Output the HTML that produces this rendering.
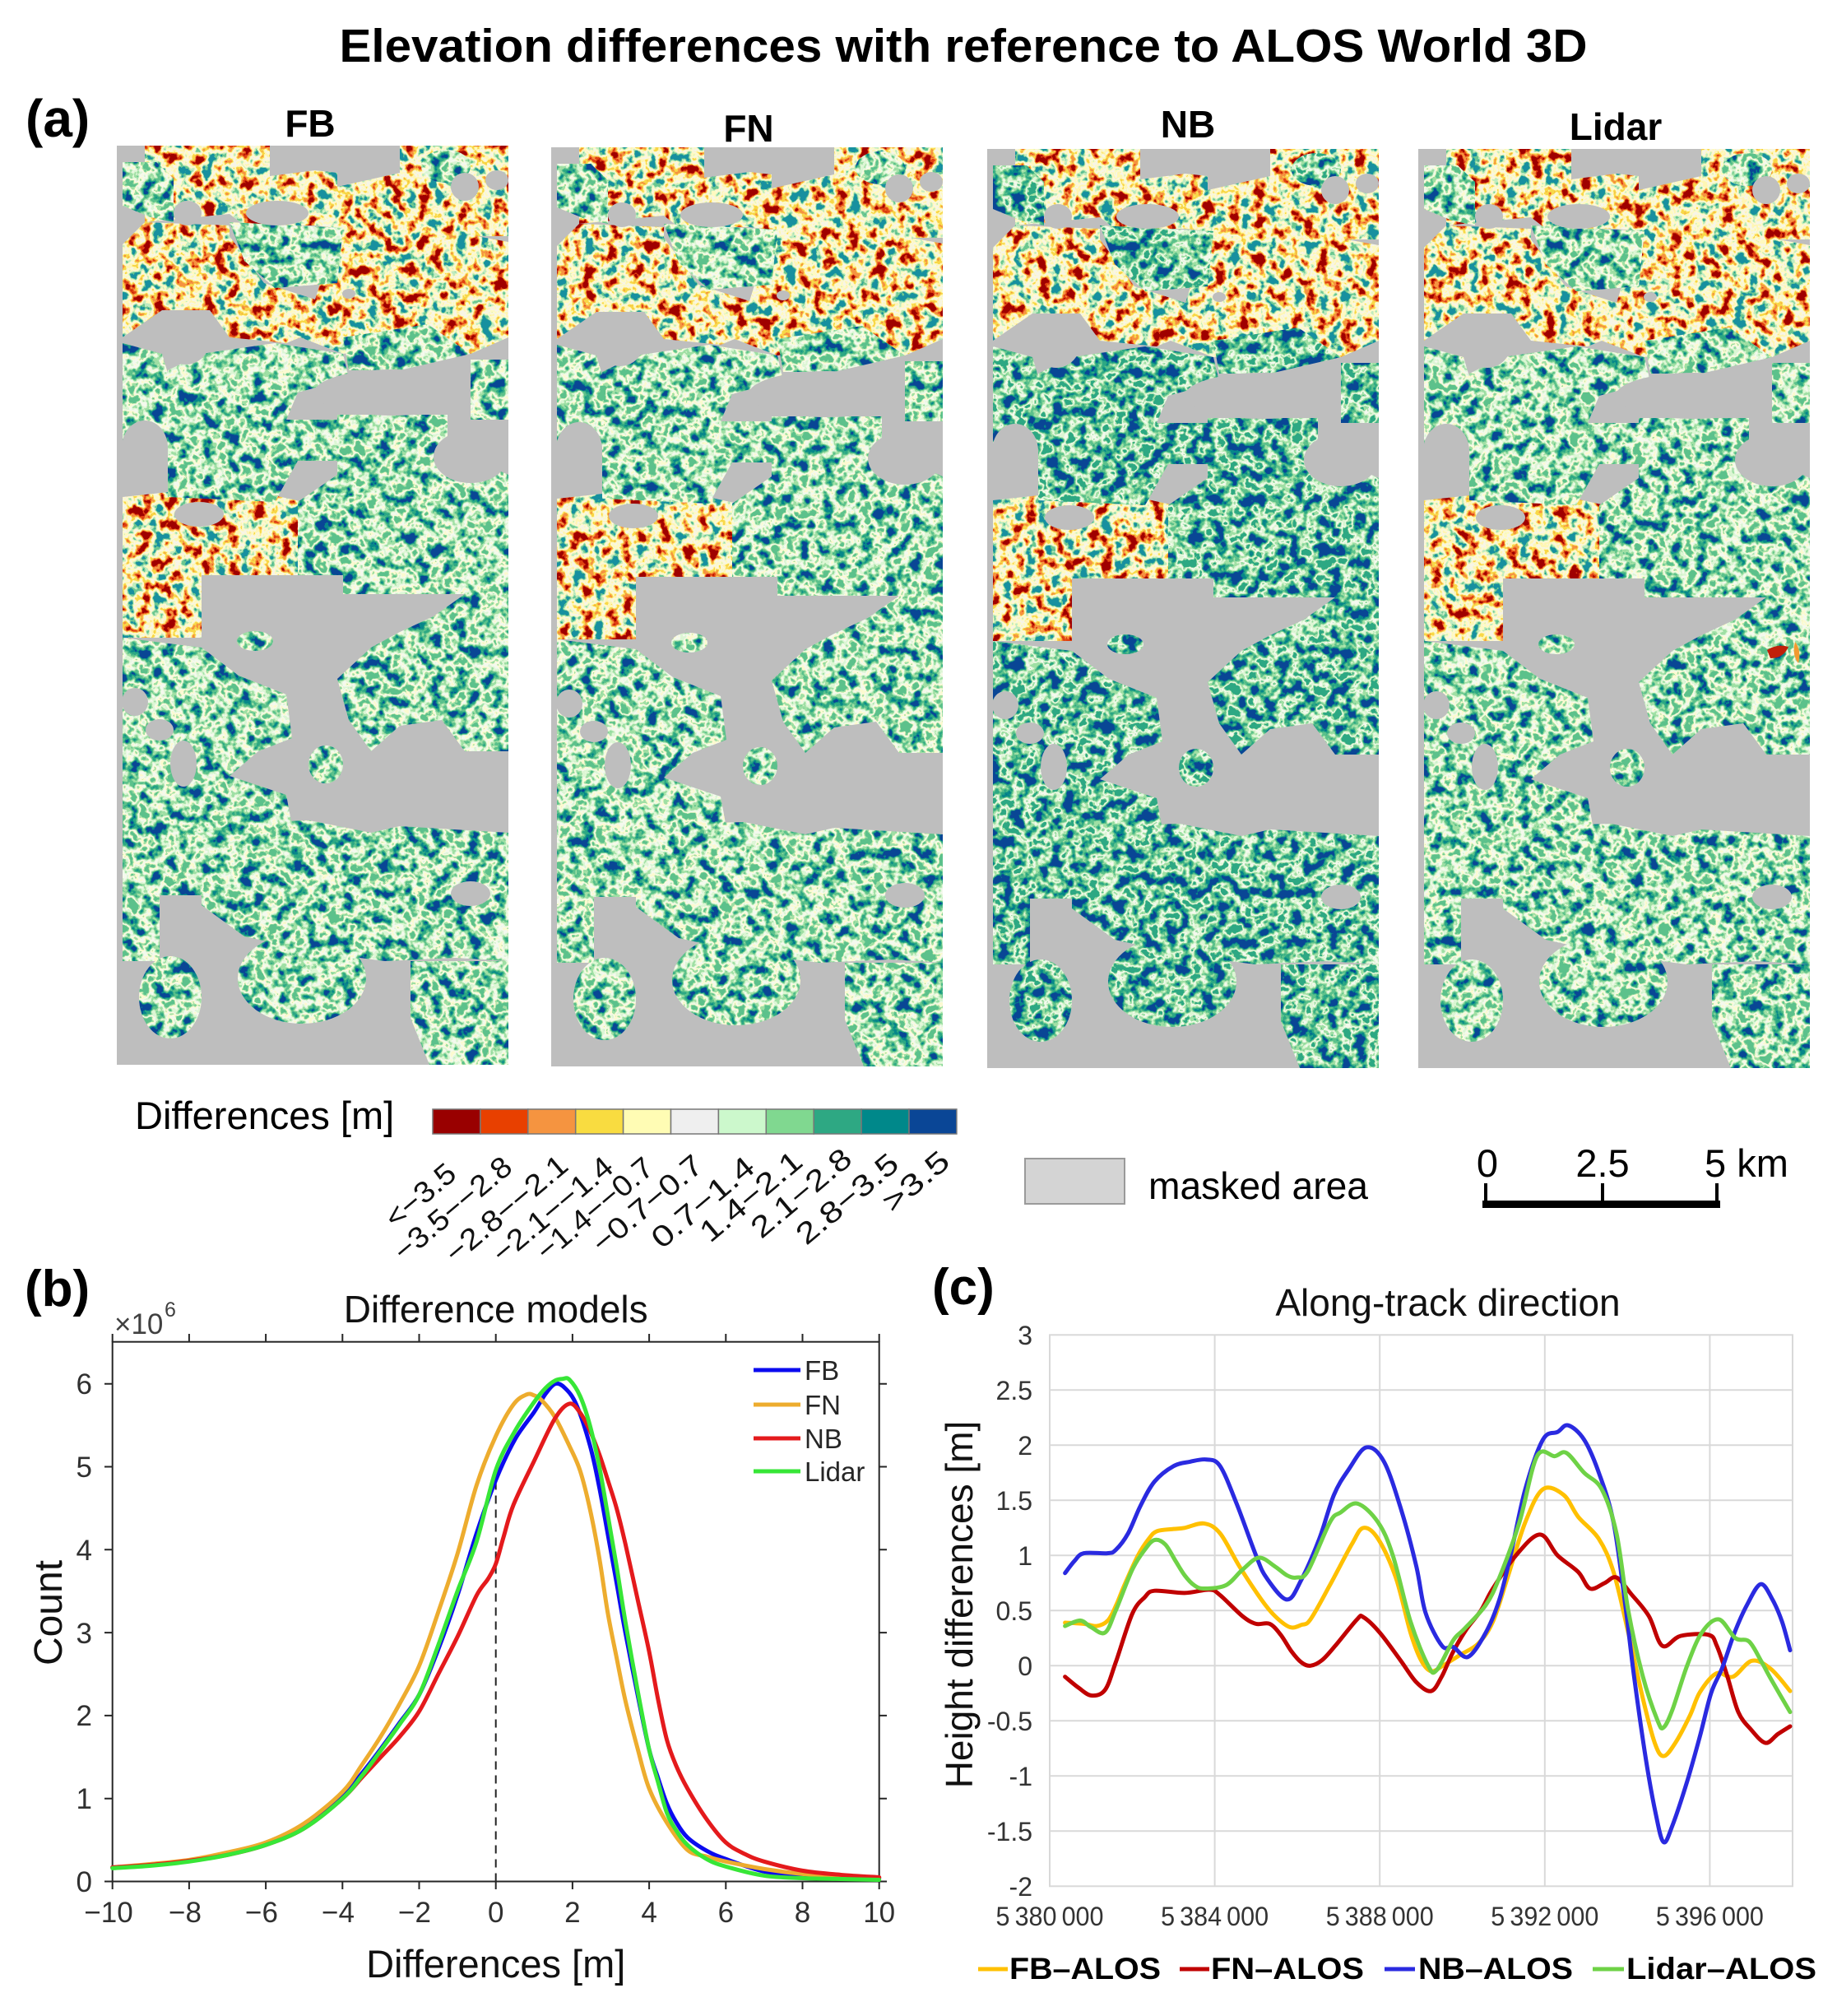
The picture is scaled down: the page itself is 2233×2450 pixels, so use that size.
<!DOCTYPE html>
<html><head><meta charset="utf-8"><style>
html,body{margin:0;padding:0;background:#fff;}
svg{display:block;font-family:"Liberation Sans",Arial,sans-serif;}
</style></head><body>
<svg id="root" xmlns="http://www.w3.org/2000/svg" width="2233" height="2450" viewBox="0 0 2233 2450">
<defs>
<filter id="fW" color-interpolation-filters="sRGB">
 <feTurbulence type="fractalNoise" baseFrequency="0.065" numOctaves="3" seed="3"/>
 <feColorMatrix type="matrix" values="2.2 0 0 0 -0.6  2.2 0 0 0 -0.6  2.2 0 0 0 -0.6  0 0 0 0 1"/>
 <feComponentTransfer>
  <feFuncR type="discrete" tableValues=".627 .878 .961 .976 1 .969 1 .753 .424 .094"/>
  <feFuncG type="discrete" tableValues="0 .251 .580 .847 .965 .961 .984 .925 .784 .565"/>
  <feFuncB type="discrete" tableValues="0 .063 .251 .282 .706 .902 .753 .753 .565 .627"/>
 </feComponentTransfer>
</filter>
<filter id="fC" color-interpolation-filters="sRGB">
 <feTurbulence type="fractalNoise" baseFrequency="0.065" numOctaves="3" seed="7"/>
 <feColorMatrix type="matrix" values="2.2 0 0 0 -0.6  2.2 0 0 0 -0.6  2.2 0 0 0 -0.6  0 0 0 0 1"/>
 <feComponentTransfer>
  <feFuncR type="discrete" tableValues=".039 .031 .180 .361 .627 .863 .957 .992 .627 .361"/>
  <feFuncG type="discrete" tableValues=".275 .533 .659 .757 .878 .965 .980 .984 .878 .757"/>
  <feFuncB type="discrete" tableValues=".588 .541 .514 .549 .647 .835 .937 .816 .647 .549"/>
 </feComponentTransfer>
</filter>
<filter id="fCB" color-interpolation-filters="sRGB">
 <feTurbulence type="fractalNoise" baseFrequency="0.065" numOctaves="3" seed="11"/>
 <feColorMatrix type="matrix" values="2.2 0 0 0 -0.6  2.2 0 0 0 -0.6  2.2 0 0 0 -0.6  0 0 0 0 1"/>
 <feComponentTransfer>
  <feFuncR type="discrete" tableValues=".039 .039 .031 .180 .361 .627 .863 .957 .627 .180"/>
  <feFuncG type="discrete" tableValues=".275 .275 .533 .659 .757 .878 .965 .980 .878 .659"/>
  <feFuncB type="discrete" tableValues=".588 .588 .541 .514 .549 .647 .835 .937 .647 .514"/>
 </feComponentTransfer>
</filter>
<g id="warmS">
 <path d="M34,0 L186,0 L186,37 L241,30 L268,33 L268,50 L344,33 L344,0 L476,0 L476,110 L344,110 L268,100 L241,97 L155,97 L137,83 L34,93 Z"/>
 <path d="M7,120 L34,93 L137,97 L137,110 L179,167 L241,187 L268,100 L344,93 L476,117 L476,233 L430,253 L344,243 L275,253 L223,233 L206,240 L137,233 L113,200 L55,200 L7,233 Z"/>
 <path d="M7,427 L137,413 L227,433 L227,522 L103,522 L103,598 L7,598 Z"/>
</g>
<g id="coolS">
 <path d="M7,20 L48,20 L69,40 L69,93 L41,87 L7,73 Z"/>
 <ellipse cx="400" cy="25" rx="30" ry="20"/>
 <path d="M137,93 L275,100 L268,167 L192,173 L155,140 Z"/>
 <path d="M7,240 L55,253 L69,300 L69,367 L7,360 Z"/>
 <path d="M62,273 L103,253 L192,240 L275,253 L282,283 L220,300 L206,333 L268,333 L268,383 L220,383 L192,433 L62,427 Z"/>
 <path d="M268,327 L402,327 L402,367 L476,400 L476,522 L220,522 L220,433 L268,400 Z"/>
 <path d="M430,260 L476,260 L476,333 L430,333 Z"/>
 <path d="M275,233 L378,217 L430,253 L344,273 L282,273 Z"/>
 <ellipse cx="168" cy="602" rx="22" ry="12"/>
 <path d="M268,648 L309,610 L344,591 L385,572 L423,545 L476,537 L476,736 L423,736 L395,698 L344,705 L309,736 L282,698 Z"/>
 <path d="M275,522 L476,522 L476,545 L275,545 Z"/>
 <path d="M7,598 L103,610 L148,644 L206,667 L213,720 L172,736 L137,766 L206,789 L213,827 L103,827 L7,827 Z"/>
 <ellipse cx="254" cy="752" rx="21" ry="23"/>
 <path d="M103,824 L234,820 L309,835 L344,827 L476,835 L476,991 L412,987 L326,991 L241,980 L155,961 L103,923 Z"/>
 <path d="M7,820 L103,820 L103,911 L7,911 Z"/>
 <path d="M7,888 L52,888 L52,991 L7,991 Z"/>
 <ellipse cx="65" cy="1035" rx="38" ry="50"/>
 <ellipse cx="225" cy="1012" rx="78" ry="55"/>
 <path d="M357,991 L476,991 L476,1117 L380,1117 L357,1060 Z"/>
</g>
<g id="holeS">
 <ellipse cx="86" cy="82" rx="17" ry="15"/>
 <ellipse cx="195" cy="82" rx="38" ry="15"/>
 <ellipse cx="423" cy="50" rx="17" ry="17"/>
 <ellipse cx="462" cy="42" rx="14" ry="12"/>
 <ellipse cx="84" cy="233" rx="30" ry="33"/>
 <ellipse cx="335" cy="300" rx="95" ry="28"/>
 <ellipse cx="34" cy="367" rx="28" ry="33"/>
 <ellipse cx="430" cy="378" rx="45" ry="32"/>
 <ellipse cx="100" cy="448" rx="30" ry="15"/>
 <ellipse cx="22" cy="676" rx="16" ry="17"/>
 <ellipse cx="81" cy="751" rx="16" ry="28"/>
 <ellipse cx="52" cy="710" rx="17" ry="13"/>
 <ellipse cx="430" cy="909" rx="24" ry="15"/>
 <ellipse cx="282" cy="180" rx="8" ry="6"/>
</g>
<mask id="mW1" maskUnits="userSpaceOnUse" x="0" y="0" width="2233" height="2450"><use href="#warmS" fill="#fff" transform="translate(142,177)"/></mask>
<mask id="mC1" maskUnits="userSpaceOnUse" x="0" y="0" width="2233" height="2450"><use href="#coolS" fill="#fff" transform="translate(142,177)"/></mask>
<mask id="mW2" maskUnits="userSpaceOnUse" x="0" y="0" width="2233" height="2450"><use href="#warmS" fill="#fff" transform="translate(670,179)"/></mask>
<mask id="mC2" maskUnits="userSpaceOnUse" x="0" y="0" width="2233" height="2450"><use href="#coolS" fill="#fff" transform="translate(670,179)"/></mask>
<mask id="mW3" maskUnits="userSpaceOnUse" x="0" y="0" width="2233" height="2450"><use href="#warmS" fill="#fff" transform="translate(1200,181)"/></mask>
<mask id="mC3" maskUnits="userSpaceOnUse" x="0" y="0" width="2233" height="2450"><use href="#coolS" fill="#fff" transform="translate(1200,181)"/></mask>
<mask id="mW4" maskUnits="userSpaceOnUse" x="0" y="0" width="2233" height="2450"><use href="#warmS" fill="#fff" transform="translate(1724,181)"/></mask>
<mask id="mC4" maskUnits="userSpaceOnUse" x="0" y="0" width="2233" height="2450"><use href="#coolS" fill="#fff" transform="translate(1724,181)"/></mask>
</defs>

<rect width="2233" height="2450" fill="#fff"/>

<!-- Title -->
<text x="1171" y="75" font-size="57" font-weight="bold" text-anchor="middle" textLength="1517" lengthAdjust="spacingAndGlyphs">Elevation differences with reference to ALOS World 3D</text>
<text x="31" y="166" font-size="64" font-weight="bold">(a)</text>
<text x="377" y="166" font-size="46" font-weight="bold" text-anchor="middle">FB</text>
<text x="910" y="172" font-size="46" font-weight="bold" text-anchor="middle">FN</text>
<text x="1444" y="167" font-size="46" font-weight="bold" text-anchor="middle">NB</text>
<text x="1964" y="170" font-size="46" font-weight="bold" text-anchor="middle">Lidar</text>

<!-- Map panels -->
<g>
 <rect x="142" y="177" width="476" height="1117" fill="#bebebe"/>
 <rect x="142" y="177" width="476" height="1117" filter="url(#fW)" mask="url(#mW1)"/>
 <rect x="142" y="177" width="476" height="1117" filter="url(#fC)" mask="url(#mC1)"/>
 <svg x="142" y="177" width="476" height="1117" fill="#bebebe"><use href="#holeS"/></svg>
</g>
<g>
 <rect x="670" y="179" width="476" height="1117" fill="#bebebe"/>
 <rect x="670" y="179" width="476" height="1117" filter="url(#fW)" mask="url(#mW2)"/>
 <rect x="670" y="179" width="476" height="1117" filter="url(#fC)" mask="url(#mC2)"/>
 <svg x="670" y="179" width="476" height="1117" fill="#bebebe"><use href="#holeS"/></svg>
</g>
<g>
 <rect x="1200" y="181" width="476" height="1117" fill="#bebebe"/>
 <rect x="1200" y="181" width="476" height="1117" filter="url(#fW)" mask="url(#mW3)"/>
 <rect x="1200" y="181" width="476" height="1117" filter="url(#fCB)" mask="url(#mC3)"/>
 <svg x="1200" y="181" width="476" height="1117" fill="#bebebe"><use href="#holeS"/></svg>
</g>
<g>
 <rect x="1724" y="181" width="476" height="1117" fill="#bebebe"/>
 <rect x="1724" y="181" width="476" height="1117" filter="url(#fW)" mask="url(#mW4)"/>
 <rect x="1724" y="181" width="476" height="1117" filter="url(#fC)" mask="url(#mC4)"/>
 <svg x="1724" y="181" width="476" height="1117" fill="#bebebe"><use href="#holeS"/></svg>
 <path d="M2148,790 q12,-8 26,-4 q-6,14 -22,14 z" fill="#c0200a"/>
 <path d="M2182,780 q8,10 4,26 q-8,-10 -4,-26 z" fill="#f29a30"/>
</g>

<!-- Colorbar -->
<text x="164" y="1372" font-size="47">Differences [m]</text>
<g stroke="#777" stroke-width="1.5">
 <rect x="526" y="1348" width="57.9" height="30" fill="#990000"/>
 <rect x="583.9" y="1348" width="57.9" height="30" fill="#e84000"/>
 <rect x="641.8" y="1348" width="57.9" height="30" fill="#f59440"/>
 <rect x="699.7" y="1348" width="57.9" height="30" fill="#f9dc40"/>
 <rect x="757.6" y="1348" width="57.9" height="30" fill="#fffcb4"/>
 <rect x="815.5" y="1348" width="57.9" height="30" fill="#efefef"/>
 <rect x="873.4" y="1348" width="57.9" height="30" fill="#ccf8cc"/>
 <rect x="931.3" y="1348" width="57.9" height="30" fill="#80d890"/>
 <rect x="989.2" y="1348" width="57.9" height="30" fill="#2ea883"/>
 <rect x="1047.1" y="1348" width="57.9" height="30" fill="#00888a"/>
 <rect x="1105" y="1348" width="57.9" height="30" fill="#0a4696"/>
</g>
<g font-size="36" text-anchor="end" fill="#111">
 <text transform="translate(557,1430) rotate(-40)" textLength="100" lengthAdjust="spacingAndGlyphs">&lt;−3.5</text>
 <text transform="translate(625,1422) rotate(-40)" textLength="175" lengthAdjust="spacingAndGlyphs">−3.5−−2.8</text>
 <text transform="translate(693,1420) rotate(-40)" textLength="182" lengthAdjust="spacingAndGlyphs">−2.8−−2.1</text>
 <text transform="translate(748,1422) rotate(-40)" textLength="179" lengthAdjust="spacingAndGlyphs">−2.1−−1.4</text>
 <text transform="translate(797,1423) rotate(-40)" textLength="173" lengthAdjust="spacingAndGlyphs">−1.4−−0.7</text>
 <text transform="translate(857,1420) rotate(-40)" textLength="163" lengthAdjust="spacingAndGlyphs">−0.7−0.7</text>
 <text transform="translate(920,1422) rotate(-40)" textLength="151" lengthAdjust="spacingAndGlyphs">0.7−1.4</text>
 <text transform="translate(978,1415) rotate(-40)" textLength="150" lengthAdjust="spacingAndGlyphs">1.4−2.1</text>
 <text transform="translate(1038,1412) rotate(-40)" textLength="147" lengthAdjust="spacingAndGlyphs">2.1−2.8</text>
 <text transform="translate(1095,1418) rotate(-40)" textLength="150" lengthAdjust="spacingAndGlyphs">2.8−3.5</text>
 <text transform="translate(1157,1415) rotate(-40)" textLength="94" lengthAdjust="spacingAndGlyphs">&gt;3.5</text>
</g>

<!-- masked area -->
<rect x="1246" y="1408" width="121" height="55" fill="#d4d4d4" stroke="#9a9a9a" stroke-width="2"/>
<text x="1396" y="1457" font-size="46" textLength="267" lengthAdjust="spacingAndGlyphs">masked area</text>

<!-- scale bar -->
<g font-size="47">
 <text x="1808" y="1430" text-anchor="middle">0</text>
 <text x="1948" y="1430" text-anchor="middle">2.5</text>
 <text x="2072" y="1430">5 km</text>
</g>
<g stroke="#000" stroke-width="4">
 <line x1="1806" y1="1438" x2="1806" y2="1466"/>
 <line x1="1948" y1="1438" x2="1948" y2="1466"/>
 <line x1="2087" y1="1438" x2="2087" y2="1466"/>
</g>
<rect x="1802" y="1459" width="289" height="9" fill="#000"/>

<!-- Panel (b) -->
<text x="30" y="1587" font-size="62" font-weight="bold">(b)</text>
<text x="602.7" y="1607" font-size="46" text-anchor="middle" fill="#111">Difference models</text>
<text x="139" y="1621" font-size="35" fill="#404040">×10</text>
<text x="200" y="1600" font-size="25" fill="#404040">6</text>
<g stroke="#262626" stroke-width="2" fill="none">
 <rect x="136.7" y="1630.7" width="932" height="655.8"/>
 <path d="M127,2286.5H136.7M127,2185.7H136.7M127,2084.9H136.7M127,1984.1H136.7M127,1883.3H136.7M127,1782.5H136.7M127,1681.7H136.7"/>
 <path d="M1068.7,2286.5H1078M1068.7,2185.7H1078M1068.7,2084.9H1078M1068.7,1984.1H1078M1068.7,1883.3H1078M1068.7,1782.5H1078M1068.7,1681.7H1078"/>
 <path d="M136.7,2286.5V2296M229.9,2286.5V2296M323.1,2286.5V2296M416.3,2286.5V2296M509.5,2286.5V2296M602.7,2286.5V2296M695.9,2286.5V2296M789.1,2286.5V2296M882.3,2286.5V2296M975.5,2286.5V2296M1068.7,2286.5V2296"/>
 <path d="M136.7,1630.7V1621M229.9,1630.7V1621M323.1,1630.7V1621M416.3,1630.7V1621M509.5,1630.7V1621M602.7,1630.7V1621M695.9,1630.7V1621M789.1,1630.7V1621M882.3,1630.7V1621M975.5,1630.7V1621M1068.7,1630.7V1621"/>
</g>
<g font-size="35" fill="#303030" text-anchor="end">
 <text x="112" y="2299">0</text>
 <text x="112" y="2198">1</text>
 <text x="112" y="2097">2</text>
 <text x="112" y="1997">3</text>
 <text x="112" y="1896">4</text>
 <text x="112" y="1795">5</text>
 <text x="112" y="1694">6</text>
</g>
<g font-size="35" fill="#303030" text-anchor="middle">
 <text x="132" y="2336">−10</text>
 <text x="225" y="2336">−8</text>
 <text x="318" y="2336">−6</text>
 <text x="411" y="2336">−4</text>
 <text x="504" y="2336">−2</text>
 <text x="602.7" y="2336">0</text>
 <text x="695.9" y="2336">2</text>
 <text x="789.1" y="2336">4</text>
 <text x="882.3" y="2336">6</text>
 <text x="975.5" y="2336">8</text>
 <text x="1068.7" y="2336">10</text>
</g>
<text x="602.7" y="2403" font-size="47" text-anchor="middle" fill="#111">Differences [m]</text>
<text transform="translate(75,1960) rotate(-90)" font-size="48" text-anchor="middle" fill="#111">Count</text>
<line x1="602.7" y1="2286.5" x2="602.7" y2="1782.5" stroke="#222" stroke-width="2" stroke-dasharray="10,7"/>
<g transform="translate(602.7,2286.5) scale(46.6,-100.8)" fill="none" stroke-width="5" stroke-linejoin="round" stroke-linecap="round">
 <polyline class="sm" vector-effect="non-scaling-stroke" stroke="#0b0bef" points="-10,.17 -9,.2 -8,.25 -7,.33 -6,.45 -5,.66 -4,1.03 -3.5,1.3 -3,1.6 -2.5,1.92 -2,2.25 -1.5,2.8 -1,3.45 -0.5,4.2 0,4.84 0.5,5.33 1,5.66 1.3,5.88 1.55,6.0 1.8,5.95 2.1,5.75 2.46,5.25 2.7,4.75 2.92,4.19 3.15,3.6 3.38,3.0 3.7,2.25 4,1.59 4.23,1.25 4.46,.94 4.7,.72 5,.53 5.5,.37 6,.27 7,.12 8,.07 9,.05 10,.04"/>
 <polyline class="sm" vector-effect="non-scaling-stroke" stroke="#edac2e" points="-10,.17 -9,.21 -8,.26 -7,.35 -6,.47 -5,.7 -4,1.08 -3.5,1.4 -3,1.75 -2.5,2.15 -2,2.6 -1.5,3.25 -1,3.95 -0.5,4.78 0,5.37 0.46,5.75 0.8,5.87 1,5.86 1.2,5.8 1.54,5.6 1.92,5.25 2.2,4.95 2.46,4.48 2.7,3.9 2.92,3.24 3.15,2.7 3.38,2.18 3.7,1.6 4,1.12 4.46,.71 5,.38 5.5,.3 6,.24 7,.15 8,.09 9,.06 10,.05"/>
 <polyline class="sm" vector-effect="non-scaling-stroke" stroke="#e41a1c" points="-10,.17 -9,.2 -8,.25 -7,.32 -6,.44 -5,.64 -4,1.0 -3.5,1.25 -3,1.5 -2.5,1.75 -2,2.05 -1.5,2.5 -1,2.95 -0.5,3.45 -0.2,3.65 0,3.83 0.2,4.15 0.46,4.54 1,5.07 1.54,5.58 1.92,5.76 2.2,5.65 2.46,5.43 2.7,5.15 2.92,4.84 3.15,4.5 3.38,4.07 3.7,3.4 4,2.77 4.23,2.2 4.46,1.71 4.7,1.4 5,1.12 5.5,.75 6,.47 6.5,.33 7,.24 8,.13 9,.08 10,.05"/>
 <polyline class="sm" vector-effect="non-scaling-stroke" stroke="#37e637" points="-10,.16 -9,.19 -8,.24 -7,.32 -6,.44 -5,.64 -4,1.0 -3.5,1.27 -3,1.58 -2.5,1.9 -2,2.25 -1.5,2.85 -1,3.5 -0.5,4.1 0,4.96 0.5,5.43 1,5.78 1.3,5.95 1.55,6.04 1.75,6.06 1.92,6.05 2.2,5.85 2.46,5.49 2.7,5.0 2.92,4.42 3.15,3.8 3.38,3.13 3.7,2.3 4,1.59 4.23,1.2 4.46,.83 4.7,.62 5,.44 5.5,.27 6,.18 7,.07 8,.04 9,.03 10,.02"/>
</g>
<g stroke-width="5">
 <line x1="916" y1="1665" x2="973" y2="1665" stroke="#0b0bef"/>
 <line x1="916" y1="1707" x2="973" y2="1707" stroke="#edac2e"/>
 <line x1="916" y1="1748" x2="973" y2="1748" stroke="#e41a1c"/>
 <line x1="916" y1="1788" x2="973" y2="1788" stroke="#37e637"/>
</g>
<g font-size="33" fill="#262626">
 <text x="978" y="1677">FB</text>
 <text x="978" y="1719">FN</text>
 <text x="978" y="1760">NB</text>
 <text x="978" y="1800">Lidar</text>
</g>

<!-- Panel (c) -->
<text x="1133" y="1585" font-size="62" font-weight="bold">(c)</text>
<text x="1760" y="1599" font-size="46" text-anchor="middle" fill="#111">Along-track direction</text>
<g stroke="#d9d9d9" stroke-width="2" fill="none">
 <path d="M1276,1689.3H2179M1276,1756.3H2179M1276,1823.3H2179M1276,1890.3H2179M1276,1957.3H2179M1276,2024.3H2179M1276,2091.3H2179M1276,2158.3H2179M1276,2225.3H2179"/>
 <path d="M1476.6,1622.3V2292.3M1677.2,1622.3V2292.3M1877.8,1622.3V2292.3M2078.4,1622.3V2292.3"/>
 <rect x="1276" y="1622.3" width="903" height="670"/>
</g>
<g font-size="32" fill="#333" text-anchor="end">
 <text x="1255" y="1634">3</text>
 <text x="1255" y="1701">2.5</text>
 <text x="1255" y="1768">2</text>
 <text x="1255" y="1835">1.5</text>
 <text x="1255" y="1902">1</text>
 <text x="1255" y="1969">0.5</text>
 <text x="1255" y="2036">0</text>
 <text x="1255" y="2103">-0.5</text>
 <text x="1255" y="2170">-1</text>
 <text x="1255" y="2237">-1.5</text>
 <text x="1255" y="2304">-2</text>
</g>
<g font-size="32" fill="#333" text-anchor="middle">
 <text x="1276" y="2340" textLength="131" lengthAdjust="spacingAndGlyphs">5&#8201;380&#8201;000</text>
 <text x="1476.6" y="2340" textLength="131" lengthAdjust="spacingAndGlyphs">5&#8201;384&#8201;000</text>
 <text x="1677.2" y="2340" textLength="131" lengthAdjust="spacingAndGlyphs">5&#8201;388&#8201;000</text>
 <text x="1877.8" y="2340" textLength="131" lengthAdjust="spacingAndGlyphs">5&#8201;392&#8201;000</text>
 <text x="2078.4" y="2340" textLength="131" lengthAdjust="spacingAndGlyphs">5&#8201;396&#8201;000</text>
</g>
<text transform="translate(1182,1950) rotate(-90)" font-size="46" text-anchor="middle" fill="#111">Height differences [m]</text>
<g transform="translate(1276,2024.3) scale(50.15,-134)" fill="none" stroke-width="5" stroke-linejoin="round" stroke-linecap="round">
 <polyline class="sm" vector-effect="non-scaling-stroke" stroke="#ffc000" points="0.371,.39 0.827,.38 1.141,.36 1.41,.41 1.612,.55 1.81,.73 2.14,1.0 2.4,1.15 2.6,1.22 3.0,1.24 3.27,1.25 3.74,1.29 4.13,1.2 4.6,.9 5.13,.6 5.46,.45 5.82,.35 6.1,.37 6.32,.42 6.79,.73 7.32,1.1 7.603,1.25 7.96,1.15 8.388,.8 8.745,.3 9.0,.05 9.244,-.05 9.529,0 9.957,.1 10.385,.2 10.742,.4 11.098,.8 11.526,1.3 11.954,1.6 12.454,1.55 12.81,1.35 13.31,1.15 13.666,.85 14.023,.3 14.379,-.3 14.665,-.7 14.879,-.82 15.164,-.7 15.521,-.45 15.76,-.24 16.16,-.07 16.56,-.1 17.02,.045 17.48,-.03 17.946,-.23"/>
 <polyline class="sm" vector-effect="non-scaling-stroke" stroke="#c00000" points="0.371,-.1 0.7,-.2 1.01,-.27 1.34,-.22 1.6,.03 2.0,.47 2.3,.62 2.54,.68 3.27,.66 3.87,.69 4.13,.64 4.67,.45 5.0,.38 5.33,.38 5.6,.28 5.86,.13 6.1,.03 6.32,0 6.6,.05 6.92,.18 7.45,.42 7.603,.44 8.0,.3 8.5,.05 8.887,-.15 9.244,-.23 9.5,-.1 9.77,.12 10.1,.33 10.45,.5 10.742,.7 11.3,1.0 11.883,1.19 12.311,1.0 12.81,.85 13.096,.7 13.452,.75 13.738,.8 14.094,.65 14.522,.45 14.85,.18 15.29,.27 15.97,.28 16.17,.18 16.42,-.09 16.69,-.42 17.0,-.58 17.35,-.7 17.65,-.62 17.946,-.55"/>
 <polyline class="sm" vector-effect="non-scaling-stroke" stroke="#2a2ae0" points="0.371,.84 0.6,.95 0.827,1.02 1.398,1.02 1.6,1.05 1.9,1.2 2.2,1.45 2.54,1.67 3.0,1.81 3.4,1.85 3.8,1.87 4.13,1.81 4.53,1.47 5.0,1.0 5.25,.8 5.75,.6 6.1,.78 6.534,1.15 6.89,1.55 7.247,1.78 7.675,1.98 8.103,1.85 8.531,1.4 8.887,.9 9.11,.48 9.51,.18 9.78,.17 10.14,.08 10.57,.3 10.9,.6 11.17,1.0 11.526,1.6 11.954,2.05 12.311,2.12 12.568,2.18 12.953,2.05 13.31,1.75 13.666,1.3 13.951,.55 14.165,-.1 14.451,-.85 14.693,-1.35 14.879,-1.6 15.093,-1.45 15.45,-1.05 15.76,-.64 16.03,-.25 16.3,-.02 16.6,.3 16.9,.55 17.233,.74 17.518,.6 17.75,.4 17.946,.14"/>
 <polyline class="sm" vector-effect="non-scaling-stroke" stroke="#6ed246" points="0.371,.36 0.74,.41 1.0,.35 1.34,.3 1.6,.5 2.0,.87 2.3,1.05 2.54,1.14 2.8,1.1 3.05,.95 3.27,.82 3.5,.73 3.74,.7 4.27,.73 4.67,.87 5.07,.98 5.46,.9 5.75,.82 5.99,.8 6.26,.86 6.79,1.3 7.05,1.39 7.461,1.47 7.96,1.3 8.317,1.0 8.745,.4 9.173,0 9.38,-.04 9.78,.23 10.04,.33 10.57,.55 10.9,.8 11.384,1.3 11.812,1.9 12.24,1.9 12.525,1.93 12.953,1.75 13.381,1.6 13.738,1.2 14.023,.5 14.379,-.1 14.736,-.5 14.879,-.56 15.093,-.4 15.449,0 15.806,.3 16.22,.42 16.62,.25 16.95,.22 17.233,.05 17.48,-.12 17.946,-.42"/>
</g>
<g stroke-width="5">
 <line x1="1189" y1="2393" x2="1225" y2="2393" stroke="#ffc000"/>
 <line x1="1434" y1="2393" x2="1470" y2="2393" stroke="#c00000"/>
 <line x1="1683" y1="2393" x2="1720" y2="2393" stroke="#2a2ae0"/>
 <line x1="1936" y1="2393" x2="1974" y2="2393" stroke="#6ed246"/>
</g>
<g font-size="37" font-weight="bold" fill="#000">
 <text x="1227" y="2405" textLength="184" lengthAdjust="spacingAndGlyphs">FB–ALOS</text>
 <text x="1472" y="2405" textLength="186" lengthAdjust="spacingAndGlyphs">FN–ALOS</text>
 <text x="1724" y="2405" textLength="188" lengthAdjust="spacingAndGlyphs">NB–ALOS</text>
 <text x="1977" y="2405" textLength="231" lengthAdjust="spacingAndGlyphs">Lidar–ALOS</text>
</g>
</svg>
<script>
(function(){
  var ns="http://www.w3.org/2000/svg";
  var pls=document.querySelectorAll("polyline.sm");
  for(var k=0;k<pls.length;k++){
    var pl=pls[k];
    var pts=pl.getAttribute("points").trim().split(/\s+/).map(function(p){return p.split(",").map(Number);});
    var d="M"+pts[0][0]+","+pts[0][1];
    for(var i=0;i<pts.length-1;i++){
      var p0=pts[i-1]||pts[i],p1=pts[i],p2=pts[i+1],p3=pts[i+2]||p2;
      var c1x=p1[0]+(p2[0]-p0[0])/6,c1y=p1[1]+(p2[1]-p0[1])/6;
      var c2x=p2[0]-(p3[0]-p1[0])/6,c2y=p2[1]-(p3[1]-p1[1])/6;
      d+=" C"+c1x.toFixed(4)+","+c1y.toFixed(4)+" "+c2x.toFixed(4)+","+c2y.toFixed(4)+" "+p2[0]+","+p2[1];
    }
    var path=document.createElementNS(ns,"path");
    path.setAttribute("d",d);
    path.setAttribute("stroke",pl.getAttribute("stroke"));
    path.setAttribute("vector-effect","non-scaling-stroke");
    path.setAttribute("fill","none");
    pl.parentNode.replaceChild(path,pl);
  }
})();
</script>
</body></html>
